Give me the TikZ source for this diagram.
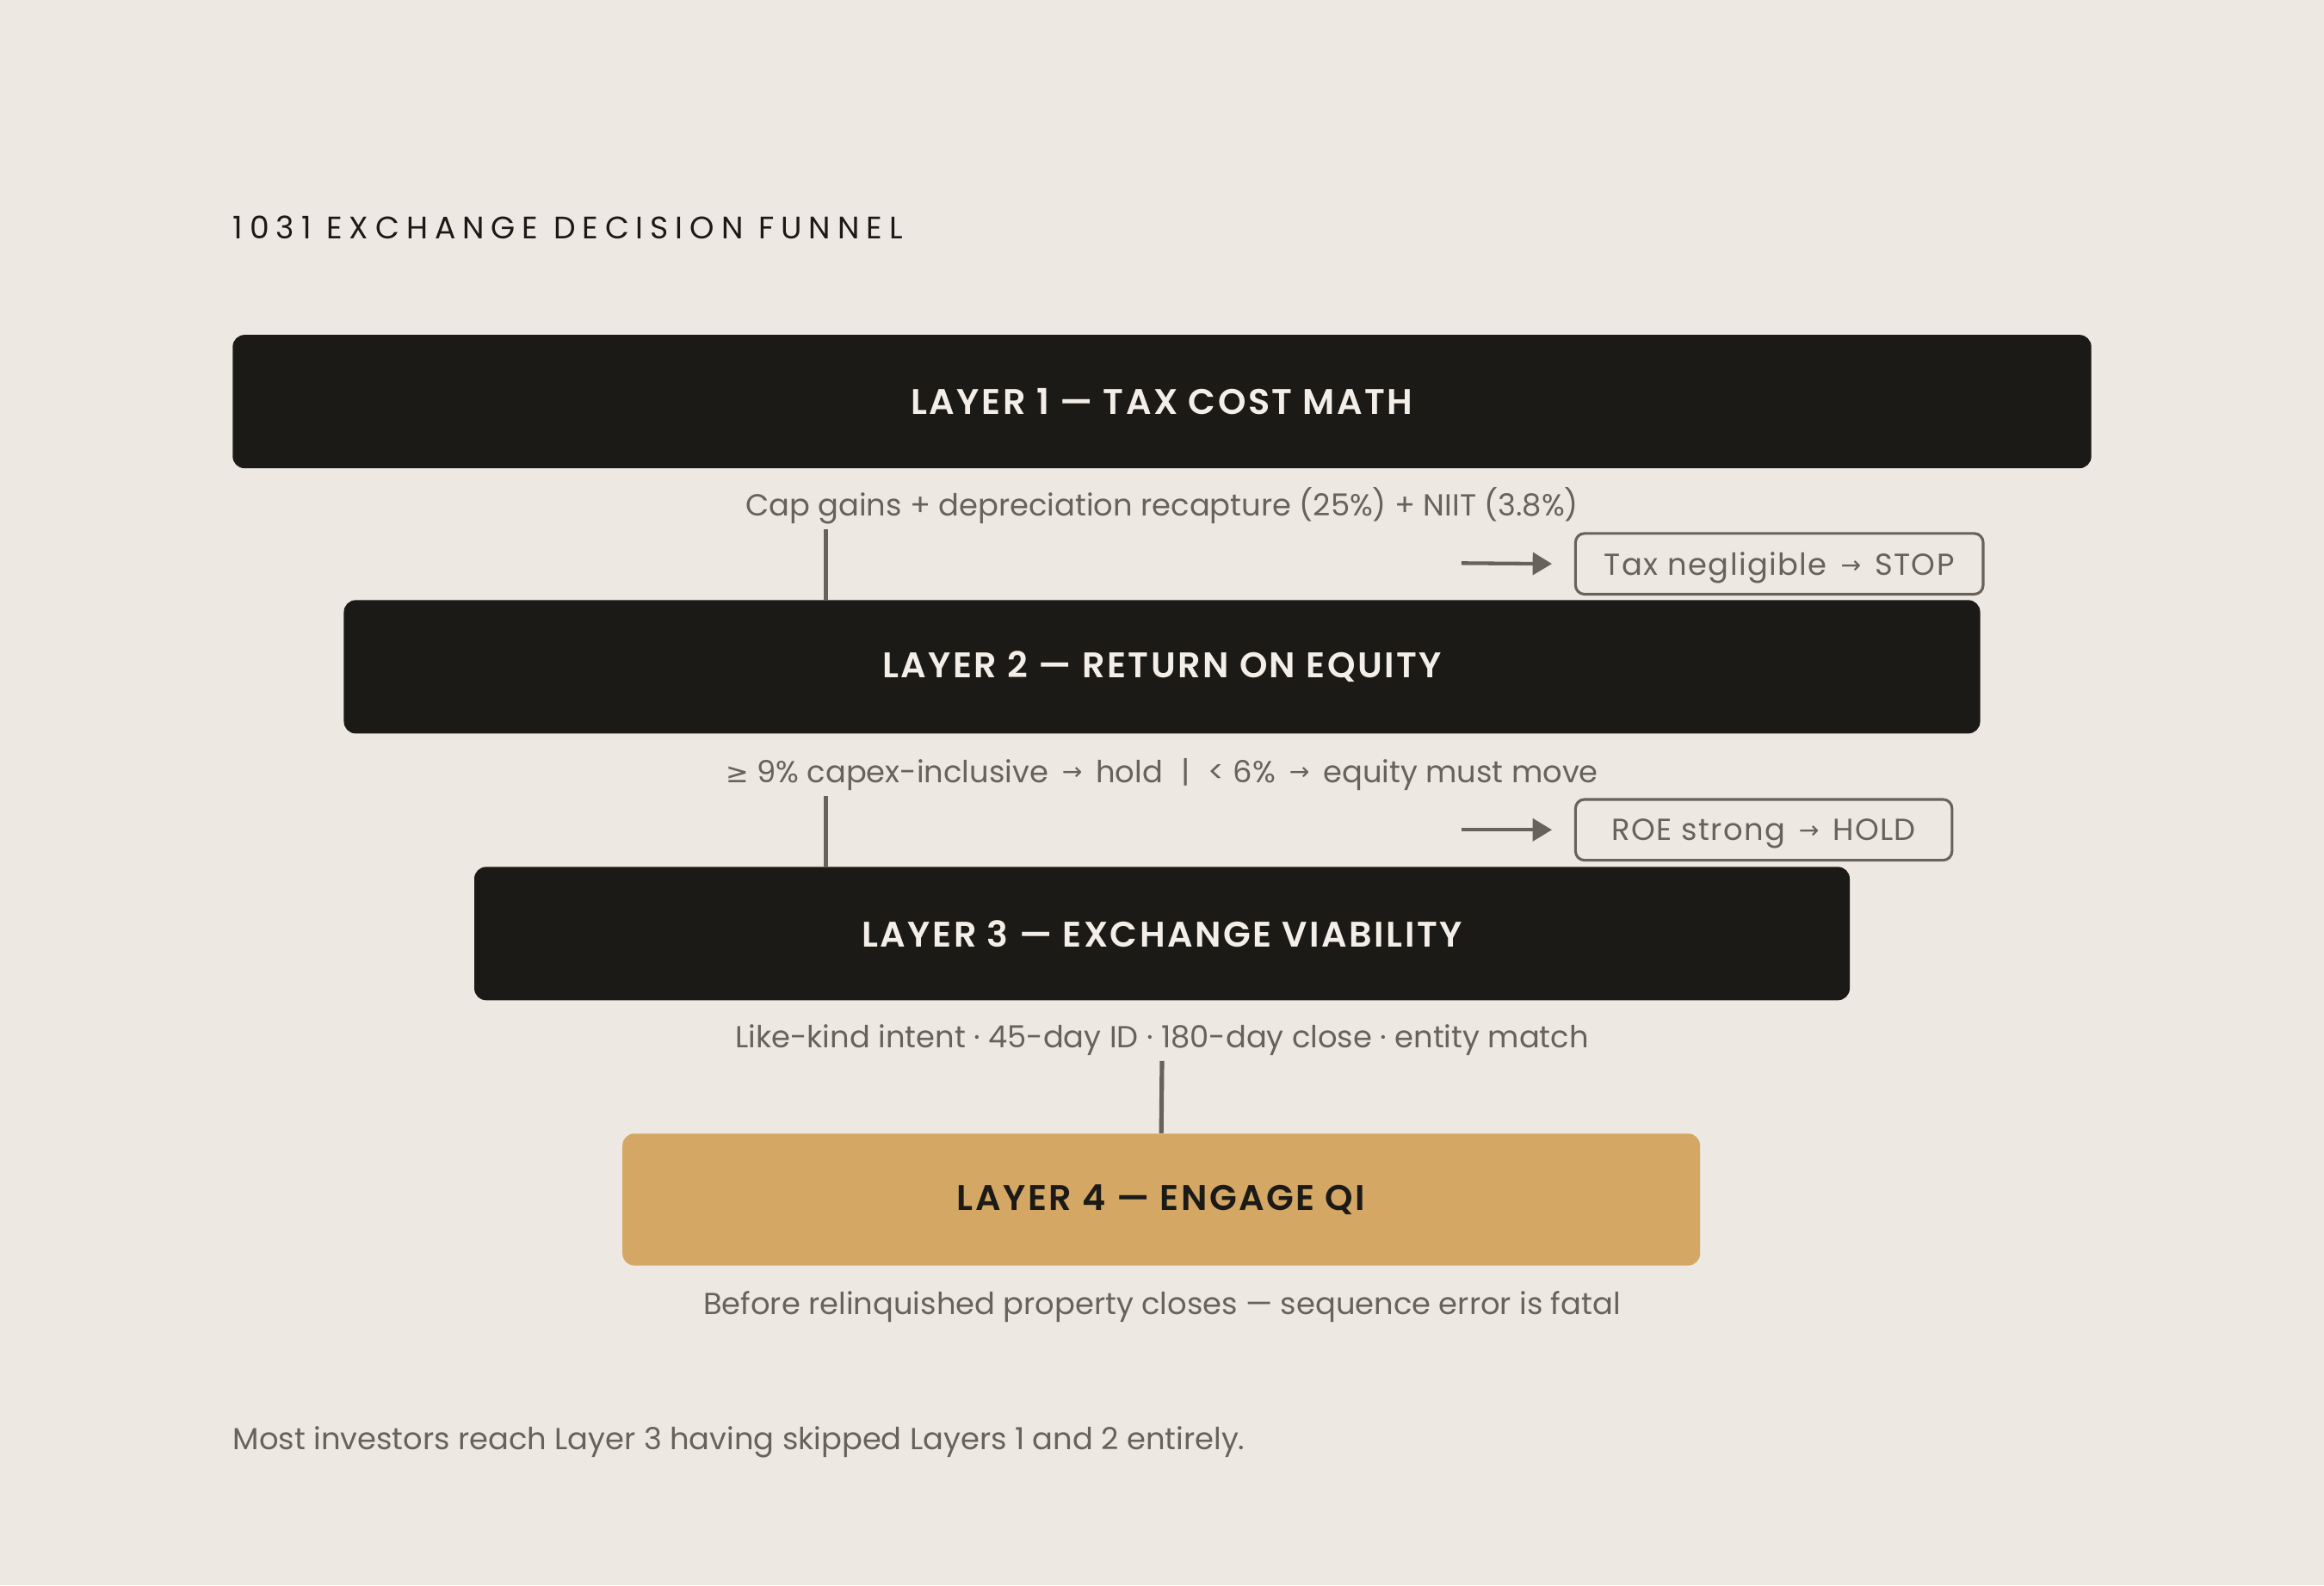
\documentclass[tikz,border=0pt]{standalone}
\usepackage{fontspec}
\usepackage{graphicx}
\setmainfont{Poppins}[BoldFont={Poppins SemiBold}]
\newfontfamily\symf{DejaVu Sans}
\usetikzlibrary{arrows.meta}
\definecolor{bg}{HTML}{EDE8E2}
\definecolor{ink}{HTML}{1C1A17}
\definecolor{gold}{HTML}{D4A764}
\definecolor{mute}{HTML}{67625C}
\definecolor{lbl}{HTML}{F3EEE7}
\newcommand{\rarr}{\hspace{0.45em}\raisebox{0.07em}{\symf\scalebox{0.8}{→}}\hspace{0.45em}}
\newcommand{\geqs}{{\symf\scalebox{0.9}{≥}}}
\tikzset{
  layerbox/.style={rounded corners=8pt, fill=ink, text=lbl, minimum height=90pt,
    inner sep=0pt, font=\fontsize{24}{28}\addfontfeature{LetterSpace=6}\selectfont\bfseries},
  goldbox/.style={layerbox, fill=gold, text=ink},
  subtxt/.style={anchor=base, text=mute, inner sep=0pt, font=\fontsize{20.5}{24}\selectfont},
  sidebox/.style={draw=mute, line width=1.8pt, rounded corners=6pt, text=mute, text depth=0pt,
    minimum height=41pt, inner sep=0pt, font=\fontsize{20.5}{24}\addfontfeature{LetterSpace=4}\selectfont},
  conn/.style={draw=mute, line width=3pt},
  sidearrow/.style={draw=mute, line width=2.5pt, -{Triangle[length=13pt,width=15pt]}},
}
\begin{document}
\begin{tikzpicture}[x=1pt,y=-1pt]
\useasboundingbox[fill=bg] (0,0) rectangle (1568,1070);
\node[anchor=base west, inner sep=0pt, text=ink, font=\fontsize{21}{24}\addfontfeature{LetterSpace=22}\selectfont] (title) at (157,161) {1031 EXCHANGE DECISION FUNNEL};

\node[layerbox, minimum width=1254pt] (L1) at (784,271) {LAYER 1 — TAX COST MATH};
\node[subtxt] (s1) at (784,348) {Cap gains + depreciation recapture (25\%) + NIIT (3.8\%)};
\coordinate (c1) at (557,357);
\coordinate (a1) at (986,380);
\node[sidebox, minimum width=275pt] (S1) at (1200.5,380.5) {Tax negligible\rarr STOP};

\node[layerbox, minimum width=1104pt] (L2) at (784,450) {LAYER 2 — RETURN ON EQUITY};
\node[subtxt] (s2) at (784,528) {\geqs\ 9\% capex-inclusive\rarr hold\hspace{0.6em}|\hspace{0.6em}< 6\%\rarr equity must move};
\coordinate (c2) at (557,537);
\coordinate (a2) at (986,560);
\node[sidebox, minimum width=254pt] (S2) at (1190,560) {ROE strong\rarr HOLD};

\node[layerbox, minimum width=928pt] (L3) at (784,630) {LAYER 3 — EXCHANGE VIABILITY};
\node[subtxt] (s3) at (784,707) {Like-kind intent · 45-day ID · 180-day close · entity match};
\coordinate (c3) at (784,716);

\node[goldbox, minimum width=727pt, minimum height=89pt] (L4) at (783.5,809.5) {LAYER 4 — ENGAGE QI};
\node[subtxt] (s4) at (784,887) {Before relinquished property closes — sequence error is fatal};

\node[anchor=base west, inner sep=0pt, text=mute, font=\fontsize{20.5}{24}\selectfont] (foot) at (157,978) {Most investors reach Layer 3 having skipped Layers 1 and 2 entirely.};

\draw[conn] (c1) -- (c1 |- L2.north);
\draw[conn] (c2) -- (c2 |- L3.north);
\draw[conn] (c3) -- (L4.north);
\draw[sidearrow] (a1) -- ([xshift=-15pt]S1.west);
\draw[sidearrow] (a2) -- ([xshift=-15pt]S2.west);
\end{tikzpicture}
\end{document}
